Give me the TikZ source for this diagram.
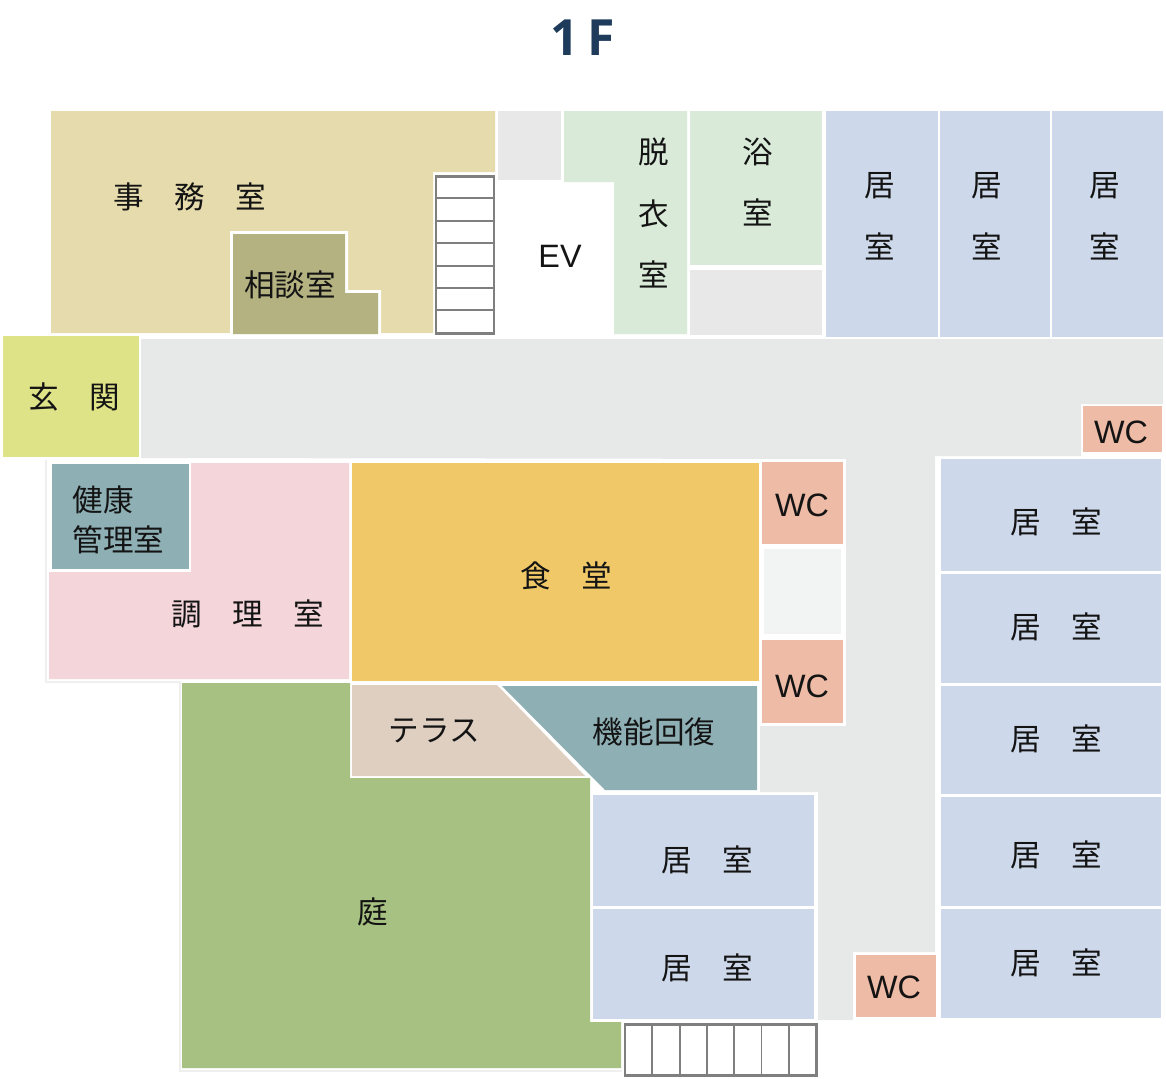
\documentclass[tikz,border=0pt]{standalone}
\usepackage{fontspec}
\setmainfont{Noto Sans CJK JP}
\newfontfamily\titlefont{Open Sans}
\newfontfamily\latinfont{Liberation Sans}
\definecolor{titleblue}{HTML}{1F3B5C}
\definecolor{officetan}{HTML}{E6DBAC}
\definecolor{consultolive}{HTML}{B3B280}
\definecolor{bathgreen}{HTML}{D9EAD9}
\definecolor{spacegrey}{HTML}{E8E8E8}
\definecolor{roomblue}{HTML}{CDD9EA}
\definecolor{entryyellow}{HTML}{DFE388}
\definecolor{hallgrey}{HTML}{E7E9E8}
\definecolor{tealgrey}{HTML}{8EB0B5}
\definecolor{kitchenpink}{HTML}{F3D5DA}
\definecolor{dininggold}{HTML}{F0C868}
\definecolor{wcpeach}{HTML}{EEBBA6}
\definecolor{palegrey}{HTML}{F2F4F3}
\definecolor{terracebeige}{HTML}{DECFC1}
\definecolor{gardengreen}{HTML}{A6C182}
\definecolor{stairgrey}{HTML}{7F7F7F}
\definecolor{hairgrey}{HTML}{EFEFEF}

\begin{document}
\begin{tikzpicture}[
    x=0.01cm, y=-0.01cm,
    roomtext/.style={inner sep=0pt, text=black!92, font=\fontsize{8.7}{17.6}\selectfont, align=center},
    wctext/.style={inner sep=0pt, text=black!92, font=\latinfont\fontsize{9.2}{11}\selectfont},
    stairs/.style={draw=stairgrey, line width=0.85pt, fill=white},
    stairline/.style={draw=stairgrey, line width=0.55pt},
    hairline/.style={draw=hairgrey, line width=0.3pt}
]
\useasboundingbox (0,0) rectangle (1166,1078);

% Title
\node[inner sep=0pt, text=titleblue, font=\titlefont\fontsize{14.2}{16}\selectfont\bfseries] (title) at (583,38) {1\,F};

% Top row
\fill[officetan] (51,111) -- (495,111) -- (495,172) -- (433,172) -- (433,333) -- (51,333) -- cycle;
\fill[white] (230,231) -- (348,231) -- (348,290) -- (381,290) -- (381,336) -- (230,336) -- cycle;
\fill[consultolive] (233,234) -- (345,234) -- (345,293) -- (378,293) -- (378,334) -- (233,334) -- cycle;
\fill[spacegrey] (498,111) rectangle (561,180);
\fill[bathgreen] (564,111) -- (687,111) -- (687,334) -- (614,334) -- (614,182) -- (564,182) -- cycle;
\fill[bathgreen] (690,111) rectangle (822,265);
\fill[spacegrey] (690,270) rectangle (822,335);
\fill[roomblue] (826,111) rectangle (938,337);
\fill[roomblue] (940,111) rectangle (1050,337);
\fill[roomblue] (1052,111) rectangle (1163,337);

% Stairs by the office
\draw[stairs] (436,176) rectangle (494,333);
\foreach \i in {1,...,6}
    \draw[stairline] ({436},{176+22.4*\i}) -- ({494},{176+22.4*\i});

% Entrance and hall
\fill[entryyellow] (3,336) rectangle (139,457);
\fill[hallgrey] (141,339) -- (1163,339) -- (1163,404) -- (1081,404) -- (1081,456) -- (935,456)
    -- (935,952) -- (853,952) -- (853,1020) -- (818,1020) -- (818,792) -- (760,792)
    -- (760,726) -- (846,726) -- (846,459) -- (141,458) -- cycle;

% Faint outer edge
\draw[hairline] (46,460) -- (46,682) -- (180,682) -- (180,1071) -- (622,1071);

% Kitchen side
\fill[kitchenpink] (191,463) -- (349,463) -- (349,679) -- (49,679) -- (49,572) -- (191,572) -- cycle;
\fill[tealgrey] (52,464) rectangle (189,569);
\fill[dininggold] (352,463) rectangle (759,681);

% WC
\fill[wcpeach] (762,462) rectangle (843,544);
\fill[palegrey] (764,549) rectangle (841,634);
\fill[wcpeach] (762,640) rectangle (843,723);
\fill[wcpeach] (1083,406) rectangle (1162,452);
\fill[wcpeach] (856,955) rectangle (936,1017);

% Terrace, training room, garden
\fill[gardengreen] (182,683) -- (350,683) -- (350,778) -- (590,778) -- (590,1022) -- (621,1022) -- (621,1068) -- (182,1068) -- cycle;
\fill[terracebeige] (352,685) -- (497,685) -- (585,776) -- (352,776) -- cycle;
\fill[tealgrey] (502,686) -- (757,686) -- (757,790) -- (605,790) -- cycle;

% Rooms in the middle
\fill[roomblue] (593,795) rectangle (814,906);
\fill[roomblue] (593,909) rectangle (814,1019);

% Rooms on the right
\fill[roomblue] (941,459) rectangle (1161,571);
\fill[roomblue] (941,574) rectangle (1161,683);
\fill[roomblue] (941,686) rectangle (1161,794);
\fill[roomblue] (941,797) rectangle (1161,906);
\fill[roomblue] (941,909) rectangle (1161,1018);

% Stairs at the bottom
\draw[stairs] (625,1024) rectangle (816,1075);
\foreach \i in {1,...,6}
    \draw[stairline] ({625+27.3*\i},{1024}) -- ({625+27.3*\i},{1075});

% Labels
\node[roomtext] (office) at (190,197) {事　務　室};
\node[roomtext] (consult) at (290,285) {相談室};
\node[wctext] (ev) at (560,256) {EV};
\node[roomtext] (changing) at (654,213) {脱\\衣\\室};
\node[roomtext] (bath) at (758,182) {浴\\室};
\node[roomtext] (roomA) at (880,216) {居\\室};
\node[roomtext] (roomB) at (987,216) {居\\室};
\node[roomtext] (roomC) at (1105,216) {居\\室};
\node[roomtext] (entrance) at (74,397) {玄　関};
\node[roomtext, align=left, font=\fontsize{8.7}{11.4}\selectfont, anchor=west] (health) at (72,520) {健康\\管理室};
\node[roomtext] (kitchen) at (248,614) {調　理　室};
\node[roomtext] (dining) at (566,576) {食　堂};
\node[wctext] (wcA) at (802,505) {WC};
\node[wctext] (wcB) at (802,686) {WC};
\node[wctext] (wcC) at (1121,432) {WC};
\node[wctext] (wcD) at (894,987) {WC};
\node[roomtext] (terrace) at (434,731) {テラス};
\node[roomtext] (training) at (654,732) {機能回復};
\node[roomtext] (garden) at (373,912) {庭};
\node[roomtext] (roomD) at (707,860) {居　室};
\node[roomtext] (roomE) at (707,968) {居　室};
\node[roomtext] (roomF) at (1056,522) {居　室};
\node[roomtext] (roomG) at (1056,627) {居　室};
\node[roomtext] (roomH) at (1056,739) {居　室};
\node[roomtext] (roomI) at (1056,855) {居　室};
\node[roomtext] (roomJ) at (1056,963) {居　室};

\end{tikzpicture}
\end{document}
